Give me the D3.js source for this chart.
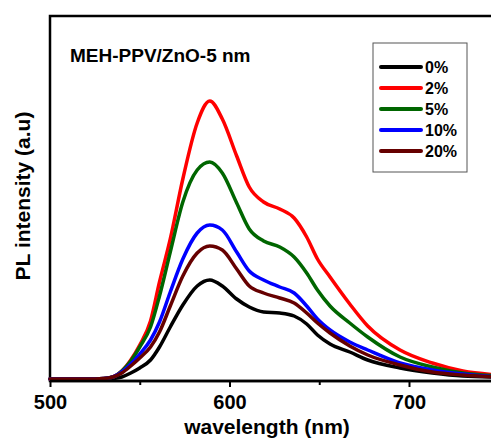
<!DOCTYPE html>
<html><head><meta charset="utf-8">
<script src="https://cdn.jsdelivr.net/npm/d3@7"></script>
<style>
html,body{margin:0;padding:0;background:#fff;overflow:hidden}
text{font-family:"Liberation Sans",Arial,sans-serif;font-weight:bold;fill:#000}
</style></head>
<body>
<script>
const wavelengths = [500,520,530,535,540,545,550,556,561,567,574,582,589,596,604,611,619,628,636,643,649,656,667,677,695,713,730,750];
const seriesNames = ["0%","2%","5%","10%","20%"];
const seriesColors = ["#000000","#ff0000","#006600","#0000ff","#660000"];
const pl0  = [0,0,0,0.5,2,6,11,19,32,52,74,93,99,93,80,72,67,66,63,55,44,35,27,19,11,6,3,2];
const pl2  = [0,0,0.5,2,8,19,34,58,97,140,200,256,278,260,223,192,177,170,161,142,120,102,75,53,29,16,8,4];
const pl5  = [0,0,0.5,2,8,18,32,52,83,127,177,209,217,206,176,150,138,132,122,106,89,73,56,42,22,12,6,3];
const pl10 = [0,0,0.5,2,7,15,25,39,57,87,120,146,154,149,127,108,99,92,86,73,60,49,37,29,16,9,5,2];
const pl20 = [0,0,0.5,2,6,13,21,32,47,73,103,126,133,129,110,93,86,81,76,66,56,46,33,24,14,7,4,2];
const seriesValues = [pl0, pl2, pl5, pl10, pl20];
const xTicks = [500,600,700];
const xMinorTicks = [550,650];
const annotation = "MEH-PPV/ZnO-5 nm";
const xTitle = "wavelength (nm)";
const yTitle = "PL intensity (a.u)";

const W = 491, H = 439;
const svg = d3.select("body").append("svg").attr("width", W).attr("height", H);

const x = d3.scaleLinear().domain([500, 750]).range([50, 498.75]);
const y = d3.scaleLinear().domain([0, 363]).range([379, 16]);

// frame
svg.append("rect").attr("x", 50).attr("y", 16).attr("width", 448.75).attr("height", 365)
  .attr("fill", "none").attr("stroke", "#000").attr("stroke-width", 2.5);

// curves
const line = d3.line().x((d, i) => x(wavelengths[i])).y(d => y(d)).curve(d3.curveMonotoneX);
seriesValues.forEach((vals, k) => {
  svg.append("path").datum(vals).attr("d", line).attr("fill", "none")
    .attr("stroke", seriesColors[k]).attr("stroke-width", 3.5)
    .attr("stroke-linejoin", "round").attr("stroke-linecap", "round");
});

// x axis
const axisY = 381;
const ax = svg.append("g").attr("transform", `translate(0,${axisY})`)
  .call(d3.axisBottom(x).tickValues(xTicks).tickSize(6).tickPadding(8).tickFormat(d3.format("d")));
ax.select(".domain").remove();
ax.selectAll(".tick line").attr("stroke", "#000").attr("stroke-width", 2);
ax.selectAll(".tick text").style("font-size", "20px").attr("dy", "0.71em");
const axm = svg.append("g").attr("transform", `translate(0,${axisY})`)
  .call(d3.axisBottom(x).tickValues(xMinorTicks).tickSize(4).tickFormat(""));
axm.select(".domain").remove();
axm.selectAll(".tick line").attr("stroke", "#000").attr("stroke-width", 2);
svg.append("line").attr("x1", 50).attr("x2", 498.75).attr("y1", axisY).attr("y2", axisY)
  .attr("stroke", "#000").attr("stroke-width", 2.5);

// titles
svg.append("text").attr("x", 267).attr("y", 434).attr("text-anchor", "middle")
  .style("font-size", "21px").text(xTitle);
svg.append("text").attr("transform", "translate(30,196) rotate(-90)").attr("text-anchor", "middle")
  .style("font-size", "21px").text(yTitle);
svg.append("text").attr("x", 70).attr("y", 62).style("font-size", "19px").text(annotation);

// legend
const lg = svg.append("g");
lg.append("rect").attr("x", 373).attr("y", 43).attr("width", 94).attr("height", 129)
  .attr("fill", "#fff").attr("stroke", "#555").attr("stroke-width", 1);
seriesNames.forEach((n, k) => {
  const yy = 67 + k * 21;
  lg.append("line").attr("x1", 381).attr("x2", 421).attr("y1", yy).attr("y2", yy)
    .attr("stroke", seriesColors[k]).attr("stroke-width", 4).attr("stroke-linecap", "round");
  lg.append("text").attr("x", 425).attr("y", yy + 6).style("font-size", "16px").text(n);
});
</script>
</body></html>
